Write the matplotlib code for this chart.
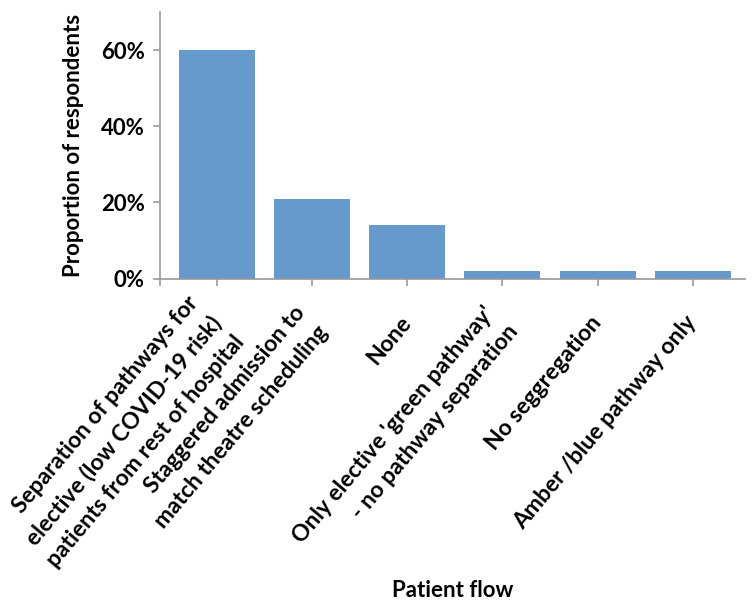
import matplotlib
matplotlib.use("Agg")
import matplotlib.pyplot as plt
import matplotlib.transforms as mtransforms
import numpy as np

# data
categories = [
    "Separation of pathways for\nelective (low COVID-19 risk)\npatients from rest of hospital",
    "Staggered admission to\nmatch theatre scheduling",
    "None",
    "Only elective 'green pathway'\n- no pathway separation",
    "No seggregation",
    "Amber /blue pathway only",
]
proportions = [60, 21, 14, 2, 2, 2]  # percent of respondents
y_ticks = [0, 20, 40, 60]
y_tick_labels = ["0%", "20%", "40%", "60%"]

plt.rcParams['font.family'] = ['Lato', 'DejaVu Sans']

bar_color = '#6699cc'
axis_color = '#999999'

fig = plt.figure(figsize=(7.52, 6.06), dpi=100)
ax = fig.add_axes([160 / 752, 1 - 278.5 / 606, 585 / 752, 266.5 / 606])

x = np.arange(len(categories))
ax.bar(x, proportions, width=0.8, color=bar_color)

ax.set_ylim(0, 70)
ax.set_xlim(-0.6, 5.55)

# y axis
ax.set_yticks(y_ticks)
ax.set_yticklabels(y_tick_labels, fontsize=16, fontweight='bold')

# x axis: ticks at the bars plus one at the corner
ax.set_xticks(list(x) + [-0.6])
ax.set_xticklabels(categories + [""], fontsize=16.5, fontweight='bold',
                   rotation=50, ha='right', va='center',
                   rotation_mode='anchor', multialignment='right',
                   linespacing=1.5)
# nudge the rotated labels a little right; wrapped ones sit lower
for lab in ax.get_xticklabels():
    n = lab.get_text().count("\n")
    dx = 5
    dy = -8 * n
    offset = mtransforms.ScaledTranslation(dx / 72, dy / 72, fig.dpi_scale_trans)
    lab.set_transform(lab.get_transform() + offset)

for side in ['top', 'right']:
    ax.spines[side].set_visible(False)
for side in ['left', 'bottom']:
    ax.spines[side].set_color(axis_color)
    ax.spines[side].set_linewidth(1.2)

ax.tick_params(axis='both', colors=axis_color, length=5, width=1.2,
               labelcolor='black')
ax.tick_params(axis='x', pad=24)
ax.tick_params(axis='y', pad=6)

ax.set_ylabel("Proportion of respondents", fontsize=16, fontweight='bold',
              labelpad=12)
ax.set_xlabel("Patient flow", fontsize=16, fontweight='bold', va='top')
ax.xaxis.set_label_coords(0.5, -1.13)

fig.savefig("out.png", dpi=100)
